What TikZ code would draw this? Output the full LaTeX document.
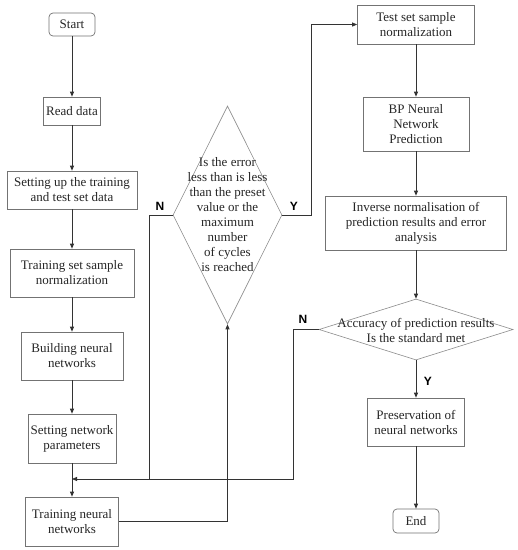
\documentclass[tikz,border=0pt]{standalone}
\usepackage{fontspec}
\setmainfont{Liberation Serif}
\newfontfamily\lblfont{Liberation Sans}
\usetikzlibrary{arrows.meta,shapes.geometric}
\begin{document}
\begin{tikzpicture}[x=1pt,y=-1pt,
  every node/.style={font=\fontsize{13}{15}\selectfont, text=black!85},
  box/.style={draw=black!55, line width=0.7pt, rectangle, inner sep=0pt, align=center},
  term/.style={box, rounded corners=4pt},
  dia/.style={draw=black!45, line width=0.6pt, diamond, inner sep=0pt, shape aspect=1},
  conn/.style={draw=black!80, line width=0.8pt},
  arr/.style={conn, -{Triangle[length=5pt,width=4pt]}},
  yn/.style={font=\lblfont\bfseries\fontsize{12}{12}\selectfont, text=black}]
\useasboundingbox (0,0) rectangle (518,550);
\fill[white] (0,0) rectangle (518,550);
% left column
\node[term, minimum width=46pt, minimum height=23pt] (start) at (72,24.5) {Start};
\node[box, minimum width=57pt, minimum height=28pt] (read) at (72,111) {Read data};
\node[box, minimum width=130pt, minimum height=38pt] (setup) at (72,190) {Setting up the training\\and test set data};
\node[box, minimum width=124pt, minimum height=48pt] (trnorm) at (72,273) {Training set sample\\normalization};
\node[box, minimum width=102pt, minimum height=48pt] (build) at (72,356) {Building neural\\networks};
\node[box, minimum width=88pt, minimum height=49pt] (param) at (72,438.5) {Setting network\\parameters};
\node[box, minimum width=93pt, minimum height=49pt] (train) at (72,521.5) {Training neural\\networks};
% diamond 1
\node[dia, minimum width=109pt, minimum height=218pt] (dia1) at (227.5,215) {};
\node[align=center, inner sep=0pt] (dia1t) at (227.5,215) {Is the error\\less than is less\\than the preset\\value or the\\maximum\\number\\of cycles\\is reached};
% right column
\node[box, minimum width=117pt, minimum height=39pt] (test) at (416,24.5) {Test set sample\\normalization};
\node[box, minimum width=106pt, minimum height=54pt] (bp) at (416,124) {BP Neural\\Network\\Prediction};
\node[box, minimum width=181pt, minimum height=54pt] (inv) at (416,223) {Inverse normalisation of\\prediction results and error\\analysis};
\node[dia, minimum width=194pt, minimum height=61pt] (dia2) at (416,329.5) {};
\node[align=center, inner sep=0pt] (dia2t) at (416,330) {Accuracy of prediction results\\Is the standard met};
\node[box, minimum width=97pt, minimum height=48pt] (pres) at (416,422) {Preservation of\\neural networks};
\node[term, minimum width=46pt, minimum height=24pt] (end) at (416,521) {End};
% coordinates
\coordinate (join) at (72,479);
\coordinate (nx) at (149,479);
\coordinate (n2x) at (293,479);
\coordinate (yx) at (311,215);
% connectors
\draw[arr] (start) -- (read);
\draw[arr] (read) -- (setup);
\draw[arr] (setup) -- (trnorm);
\draw[arr] (trnorm) -- (build);
\draw[arr] (build) -- (param);
\draw[arr] (param) -- (train);
\draw[arr] (train.east) -| (dia1.south);
\draw[conn] (dia1.west) -| (nx);
\draw[arr] (dia2.west) -| (n2x) -- (join);
\draw[arr] (dia1.east) -- (yx) |- (test.west);
\draw[arr] (test) -- (bp);
\draw[arr] (bp) -- (inv);
\draw[arr] (inv) -- (dia2.north);
\draw[arr] (dia2.south) -- (pres);
\draw[arr] (pres) -- (end);
% labels
\node[yn] (n1) at (160,206) {N};
\node[yn] (y1) at (294,206) {Y};
\node[yn] (n2) at (303,319) {N};
\node[yn] (y2) at (428,381) {Y};
\end{tikzpicture}
\end{document}
